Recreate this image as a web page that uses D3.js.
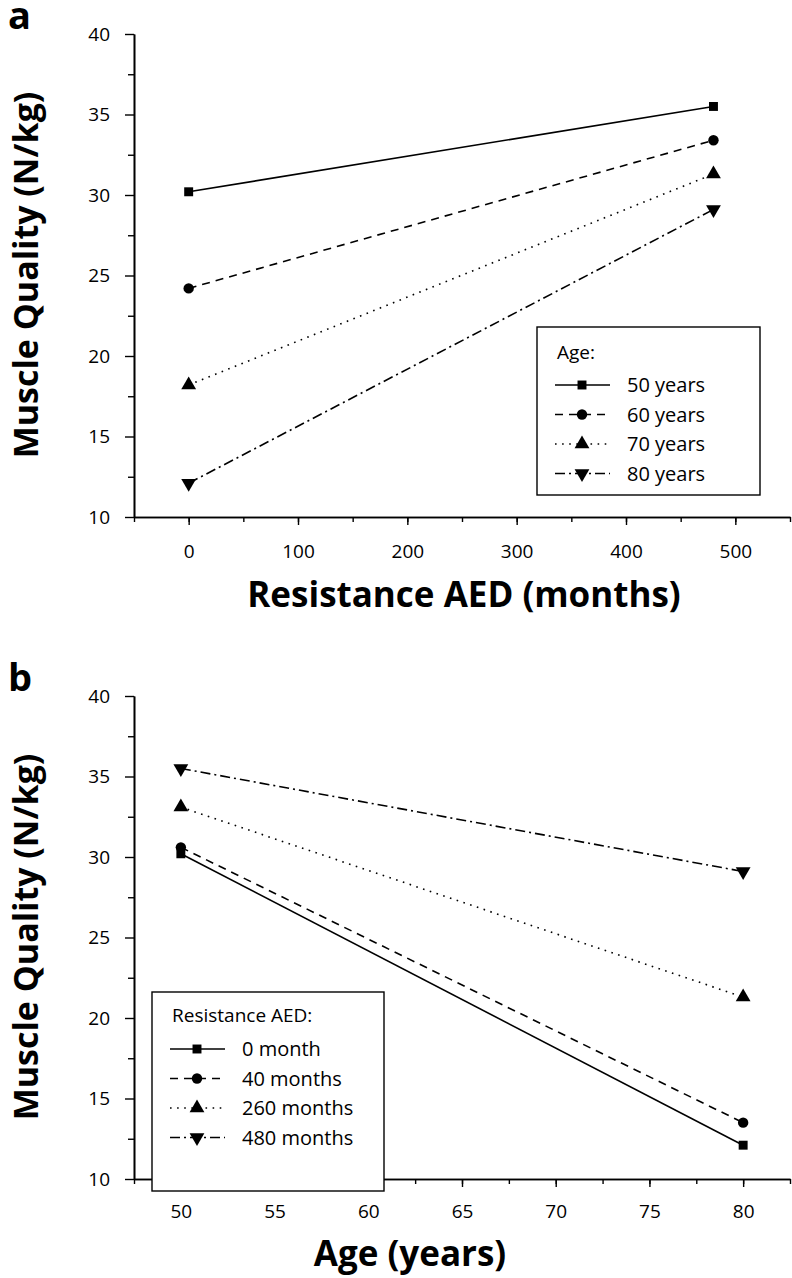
<!DOCTYPE html>
<html>
<head>
<meta charset="utf-8">
<script src="https://cdn.jsdelivr.net/npm/d3@7"></script>
<style>
  body { margin: 0; background: #fff; }
  text { font-family: "Open Sans", sans-serif; fill: #000; }
</style>
</head>
<body>
<script>
var width = 792,
    height = 1278;

// panel a: x = resistance AED (months), one line per age
var aedX = [0, 480];
var ageNames = ["50 years", "60 years", "70 years", "80 years"];
var aValues = [
  [30.2, 35.5],
  [24.2, 33.4],
  [18.2, 31.3],
  [12.1, 29.1]
];

// panel b: x = age (years), one line per resistance AED
var ageX = [50, 80];
var aedNames = ["0 month", "40 months", "260 months", "480 months"];
var bValues = [
  [30.2, 12.1],
  [30.6, 13.5],
  [33.1, 21.3],
  [35.5, 29.1]
];

var yTicks = [10, 15, 20, 25, 30, 35, 40];
var aTicks = [0, 100, 200, 300, 400, 500];
var bTicks = [50, 55, 60, 65, 70, 75, 80];

var dashes = [null, "8,6", "1.6,5.5", "10,4,2,4"];
var symbols = [d3.symbolSquare, d3.symbolCircle, d3.symbolTriangle, d3.symbolTriangle];
var symSize = [80, 85, 95, 95];

var svg = d3.select("body").append("svg").attr("width", width).attr("height", height);

function panel(opt) {
  var g = svg.append("g");
  var x = d3.scaleLinear().domain(opt.xDomain).range([134, 790]);
  var y = d3.scaleLinear().domain([10, 40]).range([opt.bottom, opt.bottom - 483]);

  // minor ticks first, then the labelled ones
  var ax = g.append("g").attr("transform", "translate(0," + opt.bottom + ")");
  ax.call(d3.axisBottom(x).tickValues(opt.minorX).tickSize(5).tickFormat("").tickSizeOuter(0));
  ax.append("g").call(d3.axisBottom(x).tickValues(opt.xTicks).tickSize(8).tickSizeOuter(0).tickPadding(opt.xPad));
  var ay = g.append("g").attr("transform", "translate(134,0)");
  ay.call(d3.axisLeft(y).tickValues(d3.range(12.5, 40, 5)).tickSize(6).tickFormat("").tickSizeOuter(0));
  ay.append("g").call(d3.axisLeft(y).tickValues(yTicks).tickSize(9).tickSizeOuter(0).tickPadding(15));

  g.selectAll(".domain").attr("stroke", "#000").attr("stroke-width", 1.6);
  g.selectAll(".tick line").attr("stroke", "#000").attr("stroke-width", 1.4);
  g.selectAll(".tick text").style("font-size", "19px").style("font-family", "Open Sans, sans-serif").attr("fill", "#000");

  var line = d3.line().x((d, i) => x(opt.xVals[i])).y(d => y(d));
  opt.values.forEach(function (vals, k) {
    g.append("path").attr("d", line(vals))
      .attr("fill", "none").attr("stroke", "#000").attr("stroke-width", 1.6)
      .attr("stroke-dasharray", dashes[k]);
    vals.forEach(function (v, i) {
      g.append("path")
        .attr("d", d3.symbol(symbols[k], symSize[k])())
        .attr("transform", "translate(" + x(opt.xVals[i]) + "," + y(v) + ")" + (k == 3 ? " rotate(180)" : ""))
        .attr("fill", "#000");
    });
  });

  // legend
  var L = opt.legend;
  var lg = g.append("g").attr("transform", "translate(" + L[0] + "," + L[1] + ")");
  lg.append("rect").attr("width", L[2]).attr("height", L[3])
    .attr("fill", "#fff").attr("stroke", "#000").attr("stroke-width", 1.4);
  lg.append("text").attr("x", 20).attr("y", L[4]).style("font-size", "19px").text(opt.legendTitle);
  opt.names.forEach(function (n, k) {
    var yy = L[5] + k * 29.5;
    lg.append("line").attr("x1", 18).attr("x2", 73).attr("y1", yy).attr("y2", yy)
      .attr("stroke", "#000").attr("stroke-width", 1.6).attr("stroke-dasharray", dashes[k]);
    lg.append("path").attr("d", d3.symbol(symbols[k], symSize[k])())
      .attr("transform", "translate(45," + yy + ")" + (k == 3 ? " rotate(180)" : ""))
      .attr("fill", "#000");
    lg.append("text").attr("x", 90).attr("y", yy + 7).style("font-size", "20px").text(n);
  });

  // titles
  g.append("text").attr("x", 8).attr("y", opt.bottom - 488)
    .style("font-size", "38px").style("font-weight", "bold").text(opt.letter);
  g.append("text").attr("x", opt.xTitleX).attr("y", opt.bottom + opt.xTitleDy)
    .attr("text-anchor", "middle").style("font-size", "35px").style("font-weight", "bold").text(opt.xTitle);
  g.append("text").attr("transform", "translate(38," + (opt.bottom - 242) + ") rotate(-90)")
    .attr("text-anchor", "middle").style("font-size", "34px").style("font-weight", "bold").text("Muscle Quality (N/kg)");
}

panel({
  letter: "a", bottom: 517, xDomain: [-50, 550], xTicks: aTicks, minorX: d3.range(-50, 551, 50), xPad: 20,
  xVals: aedX, values: aValues, names: ageNames, legendTitle: "Age:",
  legend: [537, 327, 223, 168, 32, 58],
  xTitle: "Resistance AED (months)", xTitleX: 464, xTitleDy: 90
});

panel({
  letter: "b", bottom: 1179, xDomain: [47.5, 82.5], xTicks: bTicks, minorX: d3.range(47.5, 83, 2.5), xPad: 18,
  xVals: ageX, values: bValues, names: aedNames, legendTitle: "Resistance AED:",
  legend: [152, 992, 232, 199, 30, 57],
  xTitle: "Age (years)", xTitleX: 410, xTitleDy: 87
});
</script>
</body>
</html>
